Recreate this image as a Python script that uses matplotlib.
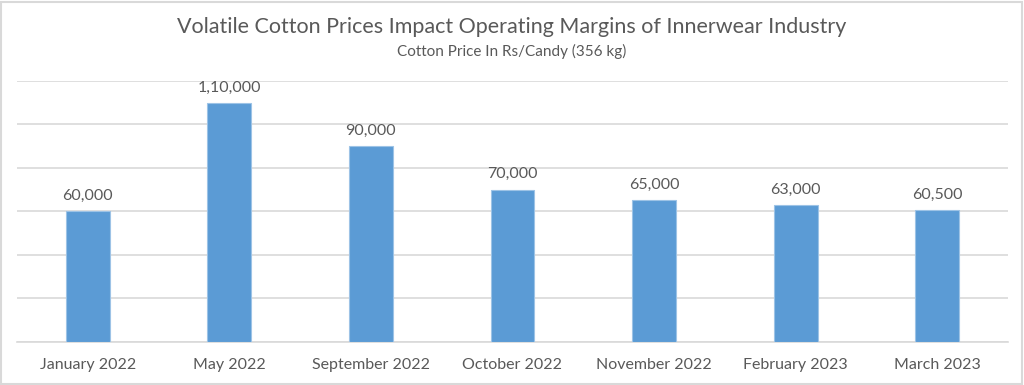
import matplotlib
matplotlib.use('Agg')
import matplotlib.pyplot as plt
from matplotlib.patches import Rectangle

months = ['January 2022', 'May 2022', 'September 2022', 'October 2022',
          'November 2022', 'February 2023', 'March 2023']
prices = [60000, 110000, 90000, 70000, 65000, 63000, 60500]
price_labels = ['60,000', '1,10,000', '90,000', '70,000', '65,000', '63,000', '60,500']

plt.rcParams['font.family'] = ['Lato', 'DejaVu Sans']
txt = '#595959'

fig = plt.figure(figsize=(10.24, 3.85), dpi=100)
ax = fig.add_axes([17/1024, 1-341.7/385, (1008-17)/1024, (341.7-81)/385])

x = range(len(months))
ax.bar(x, prices, width=0.31, color='#5B9BD5', edgecolor='#9DC3E6', linewidth=0.8, zorder=3)
for i, v in enumerate(prices):
    ax.annotate(price_labels[i], (i, v), xytext=(0, 6), textcoords='offset points',
                ha='center', va='bottom', fontsize=11.5, color=txt)

ax.set_xlim(-0.5, len(months)-0.5)
ax.set_ylim(0, 120000)
ax.set_yticks(range(0, 120001, 20000))
ax.set_yticklabels([])
ax.tick_params(axis='y', length=0)
ax.tick_params(axis='x', length=0, pad=12, labelsize=11.5, labelcolor=txt)
ax.set_xticks(list(x))
ax.set_xticklabels(months)
ax.grid(axis='y', color='#D9D9D9', linewidth=1.2, zorder=0)
for s in ['top', 'right', 'left']:
    ax.spines[s].set_visible(False)
ax.spines['bottom'].set_color('#D9D9D9')
ax.spines['bottom'].set_linewidth(1.2)

fig.text(0.5, 1-27/385, 'Volatile Cotton Prices Impact Operating Margins of Innerwear Industry',
         ha='center', va='center', fontsize=15.5, color=txt)
fig.text(0.5, 1-51/385, 'Cotton Price In Rs/Candy (356 kg)',
         ha='center', va='center', fontsize=11, color=txt)

fig.patches.append(Rectangle((1/1024, 1/385), 1-3/1024, 1-3/385, transform=fig.transFigure,
                             fill=False, edgecolor='#D9D9D9', linewidth=1.5))

fig.savefig('out.png', dpi=100)
